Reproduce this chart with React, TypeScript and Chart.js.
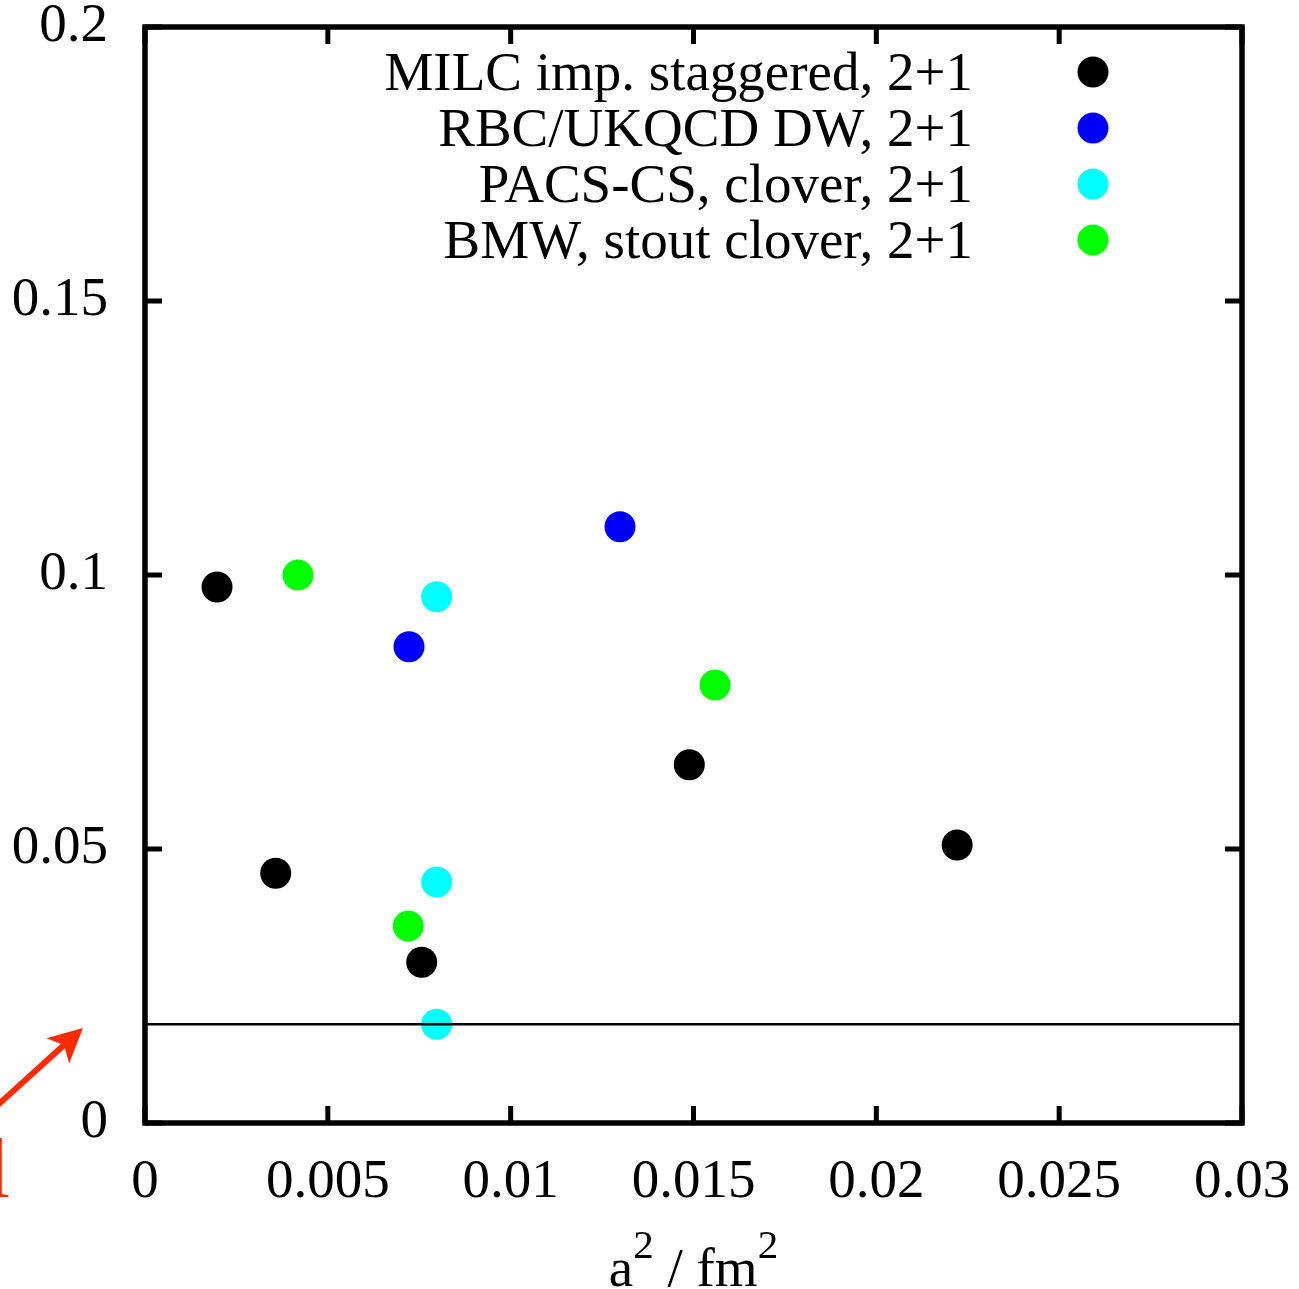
import React, { useEffect, useRef } from 'react';
import { Chart, registerables } from 'chart.js';

Chart.register(...registerables);

// ---------- data ----------
const seriesNames = [
  'MILC imp. staggered, 2+1',
  'RBC/UKQCD DW, 2+1',
  'PACS-CS, clover, 2+1',
  'BMW, stout clover, 2+1',
];
const seriesColors = ['#000000', '#0000ff', '#00ffff', '#00ff00'];

const milcX = [0.00197, 0.003574, 0.007567, 0.014885, 0.02221];
const milcY = [0.0978, 0.04557, 0.02933, 0.06538, 0.05073];
const rbcX = [0.01299, 0.00722];
const rbcY = [0.10882, 0.08692];
const pacsX = [0.007977, 0.007977, 0.007977];
const pacsY = [0.09604, 0.04398, 0.01801];
const bmwX = [0.004184, 0.01559, 0.0072];
const bmwY = [0.1, 0.07993, 0.03595];

const refLineY = 0.018;
const refLineX = [0, 0.03];

const xTickValues = [0, 0.005, 0.01, 0.015, 0.02, 0.025, 0.03];
const xTickLabels = ['0', '0.005', '0.01', '0.015', '0.02', '0.025', '0.03'];
const yTickValues = [0, 0.05, 0.1, 0.15, 0.2];
const yTickLabels = ['0', '0.05', '0.1', '0.15', '0.2'];

const xTitleParts = ['a', '2', ' / fm', '2'];

// red annotation (partly outside the frame), in data coordinates
const arrowTail = { x: -0.004512, y: 0.000365 };
const arrowTip = { x: -0.001696, y: 0.01734 };
const noteText = 'l';
const noteAt = { x: -0.003692, y: -0.0135 };

const FONT = "'Liberation Serif', 'Times New Roman', 'DejaVu Serif', serif";
const FS = 55;
const RED = '#ff2a00';

const toPts = (xs: number[], ys: number[]) => xs.map((x, i) => ({ x, y: ys[i] }));

const framePlugin = {
  id: 'gnuFrame',
  afterDraw(chart: any) {
    const { ctx, chartArea: a, scales } = chart;
    const xs = scales.x;
    const ys = scales.y;
    ctx.save();
    // ticks, mirrored on all four sides, pointing inward
    ctx.strokeStyle = '#000';
    ctx.lineWidth = 5;
    ctx.beginPath();
    const TL = 17;
    xTickValues.forEach((v) => {
      const px = xs.getPixelForValue(v);
      ctx.moveTo(px, a.bottom);
      ctx.lineTo(px, a.bottom - TL);
      ctx.moveTo(px, a.top);
      ctx.lineTo(px, a.top + TL);
    });
    yTickValues.forEach((v) => {
      const py = ys.getPixelForValue(v);
      ctx.moveTo(a.left, py);
      ctx.lineTo(a.left + TL, py);
      ctx.moveTo(a.right, py);
      ctx.lineTo(a.right - TL, py);
    });
    ctx.stroke();
    // frame
    ctx.lineWidth = 5.5;
    ctx.strokeRect(a.left, a.top, a.right - a.left, a.bottom - a.top);

    // legend (text right aligned, marker on the right)
    ctx.font = `${FS}px ${FONT}`;
    ctx.textAlign = 'right';
    ctx.textBaseline = 'alphabetic';
    seriesNames.forEach((name, i) => {
      const yRow = 72 + i * 56;
      ctx.fillStyle = '#000';
      ctx.fillText(name, 973, yRow + 18);
      ctx.fillStyle = seriesColors[i];
      ctx.beginPath();
      ctx.arc(1093, yRow, 15.5, 0, Math.PI * 2);
      ctx.fill();
    });

    // x axis title with superscripts
    const base = `${FS}px ${FONT}`;
    const sup = `${Math.round(FS * 0.75)}px ${FONT}`;
    const widths = xTitleParts.map((p, i) => {
      ctx.font = i % 2 === 1 ? sup : base;
      return ctx.measureText(p).width;
    });
    const total = widths.reduce((s, w) => s + w, 0);
    let cx = (a.left + a.right) / 2 - total / 2;
    const baseY = 1286;
    ctx.fillStyle = '#000';
    ctx.textAlign = 'left';
    xTitleParts.forEach((p, i) => {
      const isSup = i % 2 === 1;
      ctx.font = isSup ? sup : base;
      ctx.fillText(p, cx, isSup ? baseY - 28 : baseY);
      cx += widths[i];
    });

    // red arrow annotation
    const tx = xs.getPixelForValue(arrowTip.x);
    const ty = ys.getPixelForValue(arrowTip.y);
    const sx = xs.getPixelForValue(arrowTail.x);
    const sy = ys.getPixelForValue(arrowTail.y);
    const ang = Math.atan2(ty - sy, tx - sx);
    const headLen = 34;
    const headHalf = 17;
    const ux = Math.cos(ang);
    const uy = Math.sin(ang);
    const bx = tx - ux * headLen;
    const by = ty - uy * headLen;
    const nx = tx - ux * headLen * 0.75;
    const ny = ty - uy * headLen * 0.75;
    ctx.strokeStyle = RED;
    ctx.fillStyle = RED;
    ctx.lineWidth = 6;
    ctx.beginPath();
    ctx.moveTo(sx, sy);
    ctx.lineTo(nx, ny);
    ctx.stroke();
    ctx.beginPath();
    ctx.moveTo(tx, ty);
    ctx.lineTo(bx - uy * headHalf, by + ux * headHalf);
    ctx.lineTo(nx, ny);
    ctx.lineTo(bx + uy * headHalf, by - ux * headHalf);
    ctx.closePath();
    ctx.fill();

    ctx.font = `84px ${FONT}`;
    ctx.textAlign = 'right';
    ctx.fillText(noteText, xs.getPixelForValue(noteAt.x), ys.getPixelForValue(noteAt.y));
    ctx.restore();
  },
};

export default function App() {
  const ref = useRef<HTMLCanvasElement | null>(null);

  useEffect(() => {
    document.body.style.margin = '0';
    const canvas = ref.current;
    if (!canvas) return;
    const scatter = (i: number, xs: number[], ys: number[]) => ({
      type: 'scatter' as const,
      label: seriesNames[i],
      data: toPts(xs, ys),
      backgroundColor: seriesColors[i],
      borderWidth: 0,
      pointRadius: 15.5,
      pointHoverRadius: 15.5,
      order: 1,
    });
    const chart = new Chart(canvas, {
      type: 'scatter',
      data: {
        datasets: [
          {
            type: 'line' as const,
            label: 'ref',
            data: refLineX.map((x) => ({ x, y: refLineY })),
            borderColor: '#000',
            borderWidth: 2.5,
            pointRadius: 0,
            fill: false,
            order: 0,
          },
          scatter(0, milcX, milcY),
          scatter(1, rbcX, rbcY),
          scatter(2, pacsX, pacsY),
          scatter(3, bmwX, bmwY),
        ] as any,
      },
      options: {
        responsive: false,
        animation: false,
        devicePixelRatio: 1,
        layout: { padding: { top: 27, right: 57, left: 0, bottom: 0 } },
        plugins: { legend: { display: false }, tooltip: { enabled: false } },
        scales: {
          x: {
            type: 'linear',
            position: 'bottom',
            min: 0,
            max: 0.03,
            grid: { display: false, drawTicks: false },
            border: { display: false },
            afterBuildTicks: (s: any) => {
              s.ticks = xTickValues.map((v) => ({ value: v }));
            },
            afterFit: (s: any) => {
              s.height = 166;
              s.paddingLeft = 0;
              s.paddingRight = 0;
              s.paddingTop = 0;
              s.paddingBottom = 0;
            },
            ticks: {
              autoSkip: false,
              maxRotation: 0,
              padding: 32,
              color: '#000',
              font: { family: FONT, size: FS, lineHeight: 1 },
              callback: (_v: any, i: number) => xTickLabels[i],
            },
          },
          y: {
            type: 'linear',
            min: 0,
            max: 0.2,
            grid: { display: false, drawTicks: false },
            border: { display: false },
            afterBuildTicks: (s: any) => {
              s.ticks = yTickValues.map((v) => ({ value: v }));
            },
            afterFit: (s: any) => {
              s.width = 145;
              s.paddingLeft = 0;
              s.paddingRight = 0;
              s.paddingTop = 0;
              s.paddingBottom = 0;
            },
            ticks: {
              autoSkip: false,
              padding: 37,
              color: '#000',
              font: { family: FONT, size: FS, lineHeight: 1 },
              callback: (_v: any, i: number) => yTickLabels[i],
            },
          },
        },
      },
      plugins: [framePlugin],
    });
    return () => chart.destroy();
  }, []);

  return (
    <div style={{ position: 'absolute', left: 0, top: 0, width: 1299, height: 1289, background: '#fff' }}>
      <canvas ref={ref} width={1299} height={1289} style={{ display: 'block' }} />
    </div>
  );
}
